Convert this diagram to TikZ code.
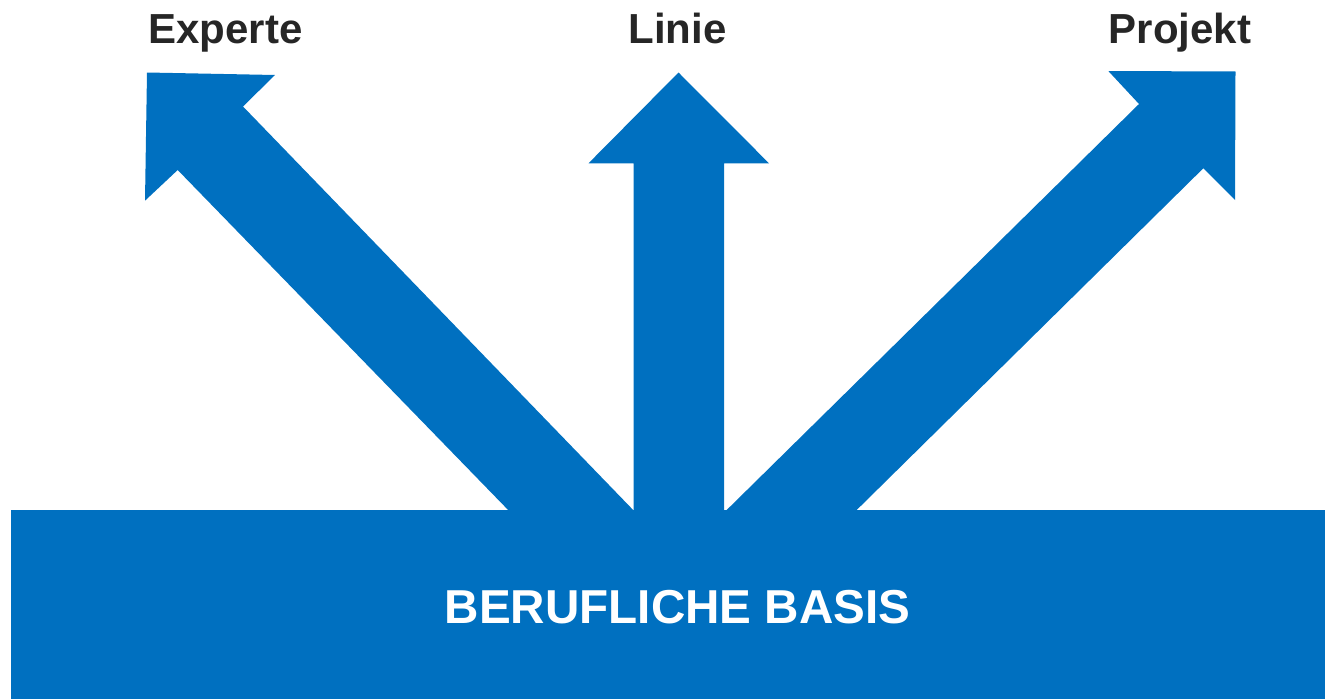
\documentclass[tikz,border=0pt]{standalone}
\usepackage{fontspec}
\setmainfont{Liberation Sans}
\definecolor{arrowblue}{HTML}{0070C0}
\definecolor{labelgray}{HTML}{262626}
\begin{document}
\begin{tikzpicture}[x=1pt,y=-1pt,
  fillblue/.style={fill=arrowblue,draw=none},
  toplabel/.style={anchor=base,inner sep=0pt,text=labelgray,font=\fontsize{42}{48}\selectfont\bfseries},
  baselabel/.style={anchor=base,inner sep=0pt,text=white,font=\fontsize{47.6}{54}\selectfont\bfseries}]
\useasboundingbox (0,0) rectangle (1325,699);
% arrows
\fill[fillblue] (147,72.5) -- (275,75) -- (243,106.5) -- (638,515) -- (513,515) -- (177.7,170) -- (145,200.7) -- cycle;
\fill[fillblue] (678.5,72.5) -- (769,163.3) -- (724,163.3) -- (724,515) -- (633.5,515) -- (633.5,163.3) -- (588.5,163.3) -- cycle;
\fill[fillblue] (1235.5,71.5) -- (1235,200) -- (1203.3,168.3) -- (851.6,515) -- (721.6,515) -- (1139,104) -- (1108.3,71) -- cycle;
% base
\node[fillblue,draw=none,minimum width=1314pt,minimum height=189pt,inner sep=0pt,anchor=north west] (basis) at (11,510) {};
\node[baselabel] (basistext) at (677.5,623.3) {BERUFLICHE BASIS};
% labels
\node[toplabel] (experte) at (225.5,43.3) {Experte};
\node[toplabel] (linie) at (677.5,43.3) {Linie};
\node[toplabel] (projekt) at (1180,43.3) {Projekt};
\end{tikzpicture}
\end{document}
